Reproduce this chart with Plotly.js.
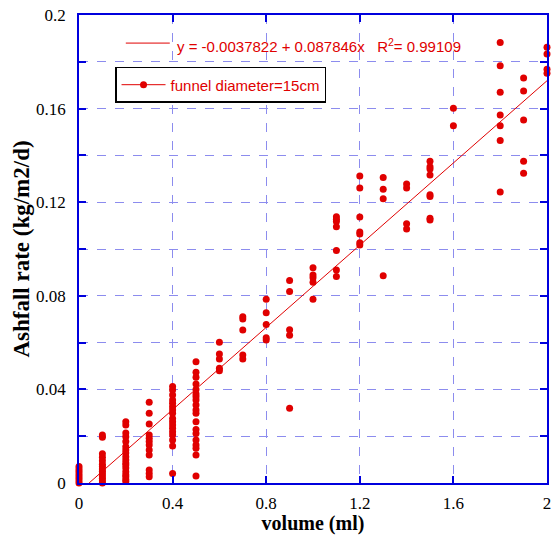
<!DOCTYPE html>
<html>
<head>
<meta charset="utf-8">
<script src="https://cdn.plot.ly/plotly-3.0.1.min.js"></script>
<style>html,body{margin:0;padding:0;background:#fff;}#chart{width:554px;height:535px;}</style>
</head>
<body>
<div id="chart"></div>
<script>
// Measured samples: volume (ml) and ashfall rate (kg/m2/d)
const volume = [
  0,0,0,0,0,0,0,0,
  0.1,0.1,0.1,0.1,0.1,0.1,0.1,0.1,0.1,0.1,0.1,0.1,0.1,0.1,
  0.2,0.2,0.2,0.2,0.2,0.2,0.2,0.2,0.2,0.2,0.2,0.2,0.2,0.2,0.2,0.2,0.2,0.2,
  0.3,0.3,0.3,0.3,0.3,0.3,0.3,0.3,0.3,0.3,0.3,0.3,
  0.4,0.4,0.4,0.4,0.4,0.4,0.4,0.4,0.4,0.4,0.4,0.4,0.4,0.4,0.4,0.4,0.4,
  0.5,0.5,0.5,0.5,0.5,0.5,0.5,0.5,0.5,0.5,0.5,0.5,0.5,0.5,0.5,0.5,0.5,0.5,0.5,
  0.6,0.6,0.6,0.6,0.6,
  0.7,0.7,0.7,0.7,0.7,
  0.8,0.8,0.8,0.8,0.8,
  0.9,0.9,0.9,0.9,0.9,
  1.0,1.0,1.0,1.0,1.0,
  1.1,1.1,1.1,1.1,1.1,1.1,1.1,
  1.2,1.2,1.2,1.2,1.2,1.2,1.2,
  1.3,1.3,1.3,1.3,
  1.4,1.4,1.4,1.4,
  1.5,1.5,1.5,1.5,1.5,1.5,1.5,1.5,
  1.6,1.6,
  1.8,1.8,1.8,1.8,1.8,1.8,1.8,
  1.9,1.9,1.9,1.9,1.9,
  2.0,2.0,2.0,2.0
];
const ashfallRate = [
  0,0.001,0.002,0.003,0.004,0.005,0.006,0.007,
  0.0205,0.0195,0.0125,0.011,0.0095,0.008,0.007,0.006,0.005,0.004,0.003,0.002,0.001,0,
  0.0262,0.0248,0.0214,0.0198,0.0177,0.0155,0.0141,0.0128,0.0112,0.0098,0.0085,0.0077,0.0064,0.0048,0.0035,0.0027,0.0015,0.0006,
  0.0345,0.0298,0.0252,0.0205,0.0191,0.0177,0.0162,0.0141,0.0120,0.0056,0.0041,0.0027,
  0.0412,0.0397,0.0376,0.0355,0.0341,0.0326,0.0312,0.0298,0.0276,0.0262,0.0248,0.0234,0.0219,0.0205,0.0184,0.0158,0.0041,
  0.0518,0.0473,0.0452,0.0423,0.0400,0.0380,0.0369,0.0355,0.0333,0.0312,0.0298,0.0262,0.0229,0.0212,0.0184,0.0162,0.0148,0.0120,0.0030,
  0.0601,0.0551,0.0530,0.0490,0.0480,
  0.0711,0.0701,0.0654,0.0547,0.0530,
  0.0785,0.0728,0.0677,0.0621,0.0611,
  0.0865,0.0818,0.0655,0.0631,0.0319,
  0.0920,0.0889,0.0877,0.0858,0.0785,
  0.1138,0.1127,0.1117,0.1095,0.0994,0.0910,0.0882,
  0.1312,0.1261,0.1137,0.1073,0.1064,0.1027,0.1017,
  0.1306,0.1255,0.1215,0.0886,
  0.1278,0.1261,0.1108,0.1085,
  0.1375,0.1352,0.1342,0.1316,0.1232,0.1224,0.1131,0.1124,
  0.1601,0.1527,
  0.1883,0.1783,0.1670,0.1573,0.1527,0.1464,0.1244,
  0.1731,0.1675,0.1551,0.1375,0.1324,
  0.1862,0.1833,0.1768,0.1751
];
// Regression line shown on the chart
const fitIntercept = -0.0037822;
const fitSlope = 0.087846;
const fitR2 = 0.99109;
const fitX = [-fitIntercept / fitSlope, 2];
const fitY = fitX.map(x => fitIntercept + fitSlope * x);

const xTickVals = [0, 0.4, 0.8, 1.2, 1.6, 2];
const xTickText = ['0', '0.4', '0.8', '1.2', '1.6', '2'];
const yTickVals = [0, 0.04, 0.08, 0.12, 0.16, 0.2];
const yTickText = ['0', '0.04', '0.08', '0.12', '0.16', '0.2'];

const RED = '#e00000';
const BLUE = '#0000dd';
const GRID = '#8c8cee';

const traces = [
  {
    x: volume, y: ashfallRate, type: 'scatter', mode: 'markers',
    marker: {color: RED, size: 7}, cliponaxis: false, showlegend: false,
    name: 'funnel diameter=15cm'
  },
  {
    x: fitX, y: fitY, type: 'scatter', mode: 'lines',
    line: {color: RED, width: 1}, showlegend: false, name: 'fit'
  },
  {
    x: [null], y: [null], type: 'scatter', mode: 'lines+markers',
    line: {color: RED, width: 1}, marker: {color: RED, size: 7},
    name: 'funnel diameter=15cm', showlegend: true
  }
];

const axisCommon = {
  showline: true, linecolor: BLUE, linewidth: 1.5, mirror: 'ticks',
  ticks: 'inside', ticklen: 7, tickwidth: 1.5, tickcolor: BLUE,
  showgrid: true, gridcolor: GRID, gridwidth: 1, griddash: 'dash',
  zeroline: false,
  tickfont: {family: 'Liberation Serif, Times New Roman, serif', size: 17, color: '#000'}
};

const layout = {
  width: 554, height: 535,
  margin: {l: 79, r: 7, t: 15, b: 52},
  paper_bgcolor: '#fff', plot_bgcolor: '#fff',
  xaxis: Object.assign({}, axisCommon, {
    range: [0, 2], tickmode: 'array', tickvals: xTickVals, ticktext: xTickText,
    ticklabelstandoff: 4,
    minor: {showgrid: false, ticks: ''},
    title: {text: 'volume (ml)', standoff: 11,
      font: {family: 'Liberation Serif, Times New Roman, serif', size: 20, color: '#000', weight: 'bold'}}
  }),
  yaxis: Object.assign({}, axisCommon, {
    range: [0, 0.2], tickmode: 'array', tickvals: yTickVals, ticktext: yTickText,
    ticklabelstandoff: 8,
    minor: {dtick: 0.02, ticks: 'inside', ticklen: 7, tickwidth: 1.5, tickcolor: BLUE,
      showgrid: true, gridcolor: GRID, gridwidth: 1, griddash: 'dash'},
    title: {text: 'Ashfall rate (kg/m2/d)', standoff: 0,
      font: {family: 'Liberation Serif, Times New Roman, serif', size: 23, color: '#000', weight: 'bold'}}
  }),
  showlegend: true,
  legend: {
    x: 0.077, y: 0.889, xanchor: 'left', yanchor: 'top',
    itemwidth: 44,
    bordercolor: '#000', borderwidth: 1.5, bgcolor: '#fff',
    font: {family: 'Liberation Sans, Arial, sans-serif', size: 15, color: RED}
  },
  shapes: [
    {type: 'line', xref: 'paper', yref: 'paper', x0: 0.1, x1: 0.194, y0: 0.94, y1: 0.94,
      line: {color: RED, width: 1}}
  ],
  annotations: [
    {xref: 'paper', yref: 'paper', x: 0.205, y: 0.934, xanchor: 'left', yanchor: 'middle',
      showarrow: false,
      text: 'y = ' + fitIntercept + ' + ' + fitSlope + 'x   R<sup>2</sup>= ' + fitR2,
      font: {family: 'Liberation Sans, Arial, sans-serif', size: 15, color: RED}}
  ]
};

Plotly.newPlot('chart', traces, layout, {displayModeBar: false, responsive: false});
</script>
</body>
</html>
